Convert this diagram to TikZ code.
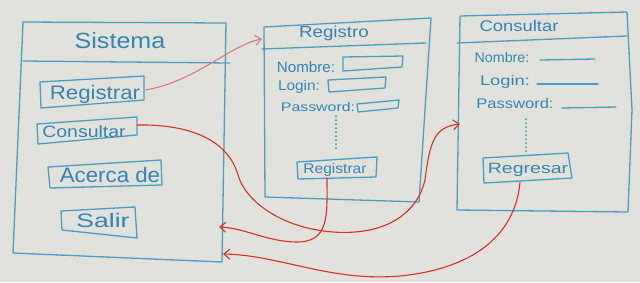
\documentclass[tikz,border=0pt]{standalone}
\usepackage{fontspec}
\setmainfont{Liberation Sans}
\usetikzlibrary{arrows.meta}
\definecolor{board}{RGB}{226,226,221}
\definecolor{mk}{RGB}{72,158,196}
\definecolor{mktxt}{RGB}{50,132,180}
\definecolor{rd}{RGB}{222,45,35}
\definecolor{pk}{RGB}{228,118,118}
\newcommand{\hw}[3]{\scalebox{#1}[1]{\fontsize{#2}{#2}\selectfont #3}}
\begin{document}
\begin{tikzpicture}[x=1pt,y=-1pt,
  ln/.style={draw=mk,line width=1.3pt,line join=round,line cap=round},
  lbl/.style={text=mktxt,inner sep=0pt,anchor=base},
  dots/.style={draw=mk,line width=2pt,line cap=round,dash pattern=on 0.3pt off 3.7pt},
  conn/.style={draw=rd,line width=1.1pt,-{Straight Barb[length=6pt,width=10pt,line width=1.1pt]}}]
\fill[board] (0,0) rectangle (640,282);
\useasboundingbox (0,0) rectangle (640,282);

% ---------- Sistema window ----------
\draw[ln] (23,22) -- (226,23) -- (222,262) -- (13,253) -- cycle;
\draw[ln] (23,61) -- (230,63);
\node[lbl] (tSis) at (120,48) {\hw{1.14}{22}{Sistema}};
\draw[ln] (40,82) -- (144,76) -- (144,100) -- (41,108) -- cycle;
\node[lbl] (tSisReg) at (95,99) {\hw{1.14}{19.5}{Registrar}};
\draw[ln] (37,124) -- (137,117) -- (137,135) -- (38,144) -- cycle;
\node[lbl] (tSisCon) at (84,137) {\hw{1.18}{16.5}{Consultar}};
\draw[ln] (48,167) -- (161,160) -- (162,185) -- (50,188) -- cycle;
\node[lbl] (tAcerca) at (110,182) {\hw{1.06}{21}{Acerca de}};
\draw[ln] (61,211) -- (135,207) -- (137,238) -- (62,230) -- cycle;
\node[lbl] (tSalir) at (103,227) {\hw{1.36}{19.5}{Salir}};

% ---------- Registro window ----------
\draw[ln] (264,27) -- (431,18) -- (419,202) -- (265,197) -- cycle;
\draw[ln] (262,49) -- (426,43);
\node[lbl] (tReg) at (334,37) {\hw{1.17}{16}{Registro}};
\node[lbl] (tRegNom) at (306,72) {\hw{1.01}{15}{Nombre:}};
\draw[ln] (343,57) -- (403,56) -- (402,67) -- (343,71) -- cycle;
\node[lbl] (tRegLog) at (299,90) {\hw{1.1}{14}{Login:}};
\draw[ln] (328,80) -- (386,77) -- (385,88) -- (329,92) -- cycle;
\node[lbl] (tRegPas) at (318,111) {\hw{1.27}{12.5}{Password:}};
\draw[ln] (357,104) -- (399,100) -- (398,108) -- (358,112) -- cycle;
\draw[dots] (336,116) -- (336,149);
\draw[ln] (297,162) -- (377,157) -- (376,177) -- (298,179) -- cycle;
\node[lbl] (tRegBtn) at (335,173) {\hw{1.11}{14}{Registrar}};

% ---------- Consultar window ----------
\draw[ln] (460,16) -- (627,12) -- (632,110) -- (628,212) -- (457,210) -- cycle;
\draw[ln] (457,43) -- (627,36);
\node[lbl] (tCon) at (519,31) {\hw{1.19}{15.5}{Consultar}};
\node[lbl] (tConNom) at (502,62) {\hw{1.02}{14}{Nombre:}};
\draw[ln] (540,60) -- (595,59);
\node[lbl] (tConLog) at (505,85) {\hw{1.31}{14}{Login:}};
\draw[ln] (537,84) -- (598,84);
\node[lbl] (tConPas) at (515,108) {\hw{1.18}{14}{Password:}};
\draw[ln] (562,108) -- (616,107);
\draw[dots] (526,119) -- (526,153);
\draw[ln] (483,158) -- (568,153) -- (572,178) -- (484,183) -- cycle;
\node[lbl] (tConBtn) at (528,173) {\hw{1.3}{15}{Regresar}};

% ---------- connector end points ----------
\coordinate (sisRegE) at (145,90);
\coordinate (regW) at (262,39);
\coordinate (sisConE) at (137,125);
\coordinate (conW) at (460,124);
\coordinate (regBtnS) at (327,178);
\coordinate (sisE1) at (219,227);
\coordinate (conBtnS) at (520,182);
\coordinate (sisE2) at (223,254);

% ---------- connectors ----------
\draw[conn,draw=pk,-{Straight Barb[length=6pt,width=10pt,line width=1.1pt]},pk]
  (sisRegE) .. controls (195,82) and (230,45) .. (regW);
\draw[conn] (sisConE) .. controls (190,124) and (228,140) .. (238,175)
  .. controls (245,200) and (280,228) .. (333,232)
  .. controls (390,236) and (418,210) .. (425,180)
  .. controls (430,140) and (435,127) .. (conW);
\draw[conn] (regBtnS) .. controls (327,215) and (330,243) .. (295,242)
  .. controls (265,241) and (245,228) .. (sisE1);
\draw[conn] (conBtnS) .. controls (516,230) and (480,268) .. (400,276)
  .. controls (330,282) and (280,255) .. (sisE2);
\end{tikzpicture}
\end{document}
